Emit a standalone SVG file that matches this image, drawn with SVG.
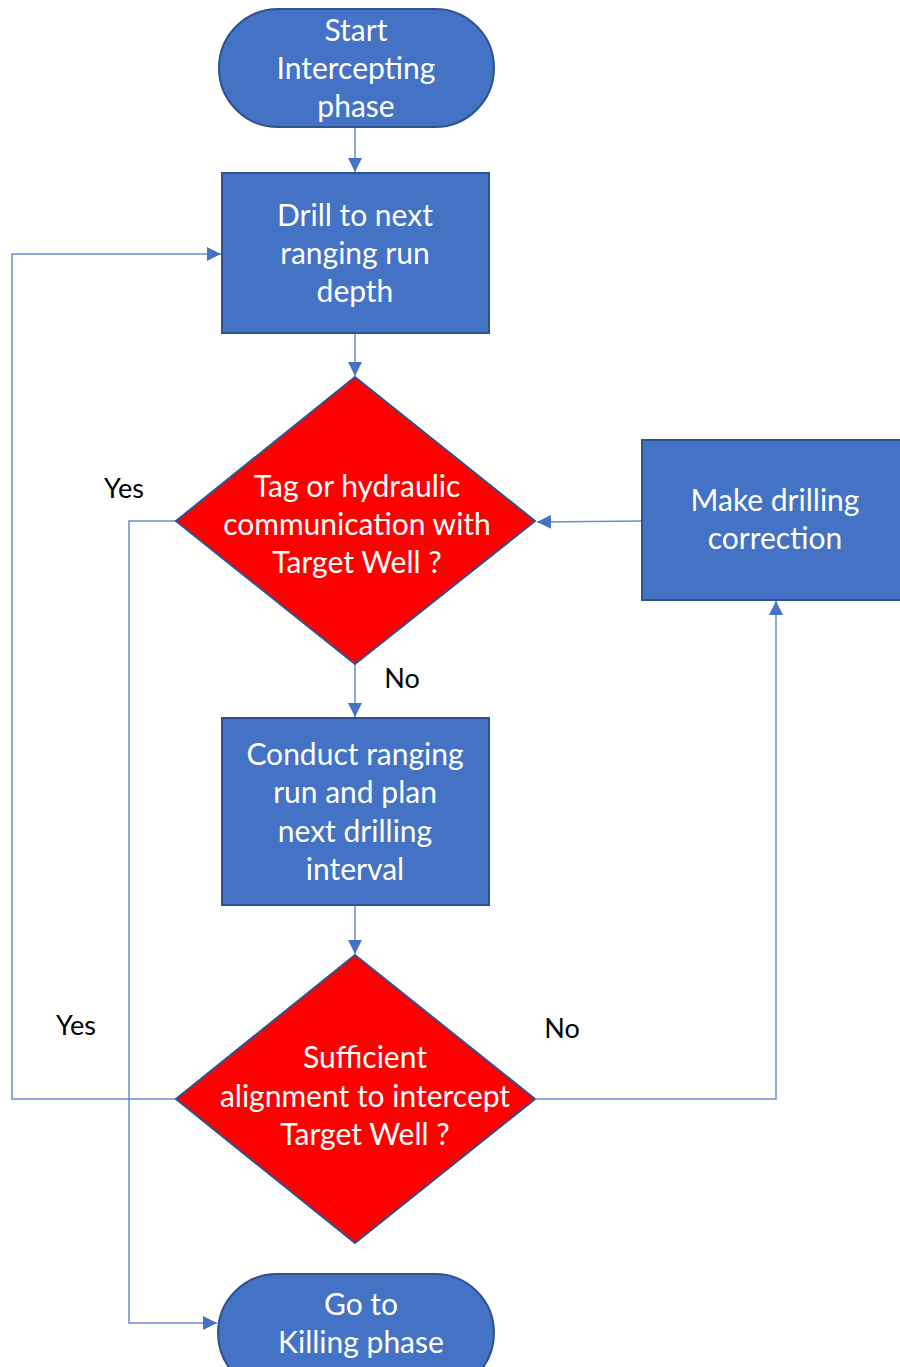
<svg xmlns="http://www.w3.org/2000/svg" width="900" height="1367" viewBox="0 0 900 1367">
<defs>
<style>
.box{fill:#4472C4;stroke:#2F528F;stroke-width:2}
.dia{fill:#FF0000;stroke:#2F528F;stroke-width:2}
.t{font-family:Lato,"Liberation Sans",sans-serif;font-size:30px;fill:#FFFFFF;text-anchor:middle;dominant-baseline:central}
.lbl{font-family:Lato,"Liberation Sans",sans-serif;font-size:27px;fill:#000000;text-anchor:middle;dominant-baseline:central}
.c{fill:none;stroke:#4472C4;stroke-width:1.5;stroke-opacity:0.8}
</style>
<marker id="ah" viewBox="0 0 10 10" refX="10" refY="5" markerWidth="16" markerHeight="14" markerUnits="userSpaceOnUse" orient="auto">
<path d="M0,0 L10,5 L0,10 Z" fill="#4472C4"/>
</marker>
</defs>
<rect width="900" height="1367" fill="#FFFFFF"/>
<g id="connectors">
<path class="c" d="M355,127 V172" marker-end="url(#ah)"/>
<path class="c" d="M355,333 V376" marker-end="url(#ah)"/>
<path class="c" d="M355,664 V717" marker-end="url(#ah)"/>
<path class="c" d="M355,905 V954" marker-end="url(#ah)"/>
<path class="c" d="M642,521 L537,522" marker-end="url(#ah)"/>
<path class="c" d="M536,1099 H776 V601" marker-end="url(#ah)"/>
<path class="c" d="M176,1099 H12 V254 H221" marker-end="url(#ah)"/>
<path class="c" d="M176,521 H129 V1323 H217" marker-end="url(#ah)"/>
<text class="lbl" x="124" y="487">Yes</text>
<text class="lbl" x="402" y="677">No</text>
<text class="lbl" x="76" y="1024">Yes</text>
<text class="lbl" x="562" y="1027">No</text>
</g>
<g id="start">
<rect class="box" x="219" y="9" width="275" height="118" rx="59" ry="59"/>
<text class="t" x="356" y="29">Start</text>
<text class="t" x="356" y="67">Intercepting</text>
<text class="t" x="356" y="105">phase</text>
</g>
<g id="drill">
<rect class="box" x="222" y="173" width="267" height="160"/>
<text class="t" x="355" y="214">Drill to next</text>
<text class="t" x="355" y="252">ranging run</text>
<text class="t" x="355" y="290">depth</text>
</g>
<g id="tag">
<polygon class="dia" points="355,377 535,521 355,664 176,521"/>
<text class="t" x="357" y="485">Tag or hydraulic</text>
<text class="t" x="357" y="523">communication with</text>
<text class="t" x="357" y="561">Target Well ?</text>
</g>
<g id="correction">
<rect class="box" x="642" y="440" width="270" height="160"/>
<text class="t" x="775" y="499">Make drilling</text>
<text class="t" x="775" y="537">correction</text>
</g>
<g id="conduct">
<rect class="box" x="222" y="718" width="267" height="187"/>
<text class="t" x="355" y="753">Conduct ranging</text>
<text class="t" x="355" y="791">run and plan</text>
<text class="t" x="355" y="830">next drilling</text>
<text class="t" x="355" y="868">interval</text>
</g>
<g id="sufficient">
<polygon class="dia" points="355,955 535,1099 355,1243 176,1099"/>
<text class="t" x="365" y="1056">Sufficient</text>
<text class="t" x="365" y="1095">alignment to intercept</text>
<text class="t" x="365" y="1133">Target Well ?</text>
</g>
<g id="killing">
<rect class="box" x="218" y="1274" width="276" height="118" rx="59" ry="59"/>
<text class="t" x="361" y="1303">Go to</text>
<text class="t" x="361" y="1341">Killing phase</text>
</g>
</svg>
